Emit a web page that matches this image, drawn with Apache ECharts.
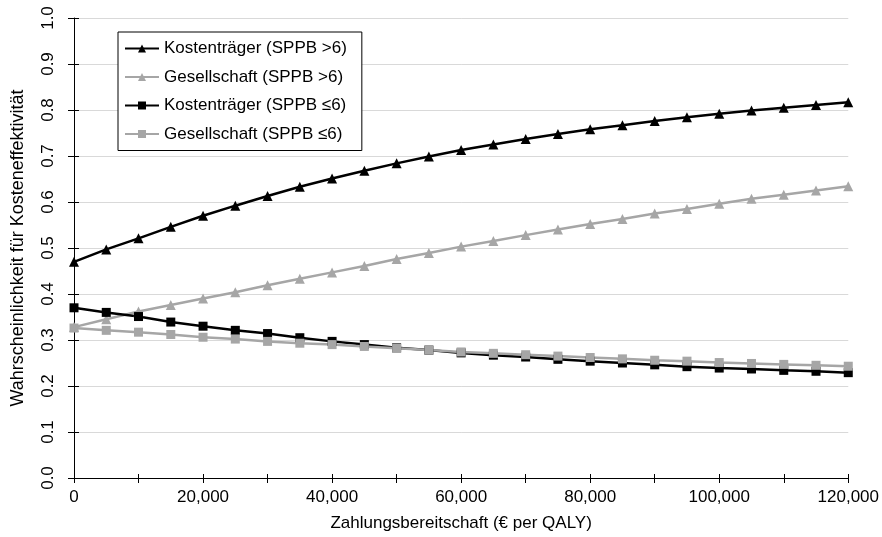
<!DOCTYPE html>
<html>
<head>
<meta charset="utf-8">
<script src="https://cdn.jsdelivr.net/npm/echarts@6/dist/echarts.min.js"></script>
<style>
html,body{margin:0;padding:0;background:#fff;}
#chart{width:882px;height:537px;}
</style>
</head>
<body>
<div id="chart"></div>
<script>
// x values: willingness to pay (€ per QALY)
const wtp = [0,5000,10000,15000,20000,25000,30000,35000,40000,45000,50000,55000,60000,
  65000,70000,75000,80000,85000,90000,95000,100000,105000,110000,115000,120000];
const seriesNames = ['Kostenträger (SPPB >6)','Gesellschaft (SPPB >6)','Kostenträger (SPPB ≤6)','Gesellschaft (SPPB ≤6)'];
const payerHigh = [0.470,0.497,0.521,0.546,0.570,0.592,0.613,0.633,0.651,0.668,0.684,0.699,0.713,
  0.725,0.737,0.748,0.758,0.767,0.776,0.784,0.792,0.799,0.805,0.811,0.817];
const societyHigh = [0.328,0.345,0.362,0.376,0.390,0.404,0.419,0.433,0.447,0.461,0.476,0.489,0.503,
  0.515,0.528,0.540,0.552,0.563,0.575,0.585,0.596,0.607,0.616,0.625,0.634];
const payerLow = [0.370,0.360,0.351,0.339,0.330,0.321,0.314,0.305,0.297,0.290,0.283,0.278,0.272,
  0.267,0.263,0.258,0.254,0.250,0.246,0.242,0.239,0.237,0.234,0.232,0.229];
const societyLow = [0.326,0.321,0.317,0.312,0.306,0.302,0.297,0.293,0.290,0.286,0.282,0.278,0.274,
  0.271,0.268,0.265,0.262,0.259,0.256,0.254,0.251,0.249,0.247,0.245,0.243];
const xTitle = 'Zahlungsbereitschaft (€ per QALY)';
const yTitle = 'Wahrscheinlichkeit für Kosteneffektivität';

const FONT = '"Liberation Sans", Arial, sans-serif';
const BLACK = '#000000';
const GRAY = '#a6a6a6';

function pairs(ys){ return wtp.map((x,i)=>[x, ys[i]]); }
function mk(name, ys, color, symbol, size){
  return {
    name, type:'line', data: pairs(ys), xAxisIndex:0, yAxisIndex:0,
    symbol, symbolSize:size, showSymbol:true,
    lineStyle:{color, width:2.5},
    itemStyle:{color, borderWidth:0},
    emphasis:{disabled:true}, animation:false
  };
}

const chart = echarts.init(document.getElementById('chart'), null, {renderer:'canvas'});
const fmtX = v => (v % 20000 === 0) ? v.toLocaleString('en-US') : '';
chart.setOption({
  animation:false,
  backgroundColor:'#fff',
  textStyle:{fontFamily:FONT, color:'#000'},
  grid:{left:74, right:32, top:18, bottom:59, containLabel:false},
  legend:{
    left:118, top:32, orient:'vertical',
    data: seriesNames,
    backgroundColor:'#fff', borderColor:'#000', borderWidth:1,
    padding:[8,15,8,6], itemGap:11.5, itemWidth:34, itemHeight:10,
    textStyle:{fontFamily:FONT, fontSize:17, color:'#000', lineHeight:17},
    selectedMode:false
  },
  xAxis:[{
    type:'value', min:0, max:120000, interval:10000,
    name:xTitle, nameLocation:'middle', nameGap:37,
    nameTextStyle:{fontFamily:FONT, fontSize:17, color:'#000'},
    axisLine:{onZero:false, lineStyle:{color:'#000', width:1}},
    axisTick:{show:true, length:5, lineStyle:{color:'#000', width:1}},
    axisLabel:{formatter:fmtX, fontFamily:FONT, fontSize:17, color:'#000', margin:11, showMaxLabel:true, showMinLabel:true},
    splitLine:{show:false}
  },{
    type:'value', min:0, max:120000, interval:10000, position:'bottom',
    axisLine:{show:false, onZero:false},
    axisTick:{show:true, inside:true, length:4, lineStyle:{color:'#000', width:1}},
    axisLabel:{show:false}, splitLine:{show:false}
  }],
  yAxis:[{
    type:'value', min:0, max:1, interval:0.1,
    name:yTitle, nameLocation:'middle', nameGap:47,
    nameTextStyle:{fontFamily:FONT, fontSize:18, color:'#000'},
    axisLine:{show:true, onZero:false, lineStyle:{color:'#000', width:1}},
    axisTick:{show:true, length:6, lineStyle:{color:'#000', width:1}},
    axisLabel:{rotate:90, formatter:v=>v.toFixed(1), fontFamily:FONT, fontSize:17, color:'#000', margin:17},
    splitLine:{show:true, lineStyle:{color:'#d9d9d9', width:1}}
  },{
    type:'value', min:0, max:1, interval:0.1, position:'left',
    axisLine:{show:false, onZero:false},
    axisTick:{show:true, inside:true, length:5, lineStyle:{color:'#000', width:1}},
    axisLabel:{show:false}, splitLine:{show:false}
  }],
  series:[
    mk(seriesNames[0], payerHigh, BLACK, 'triangle', 10),
    mk(seriesNames[1], societyHigh, GRAY, 'triangle', 10),
    mk(seriesNames[2], payerLow, BLACK, 'rect', 9),
    mk(seriesNames[3], societyLow, GRAY, 'rect', 9)
  ]
});
</script>
</body>
</html>
